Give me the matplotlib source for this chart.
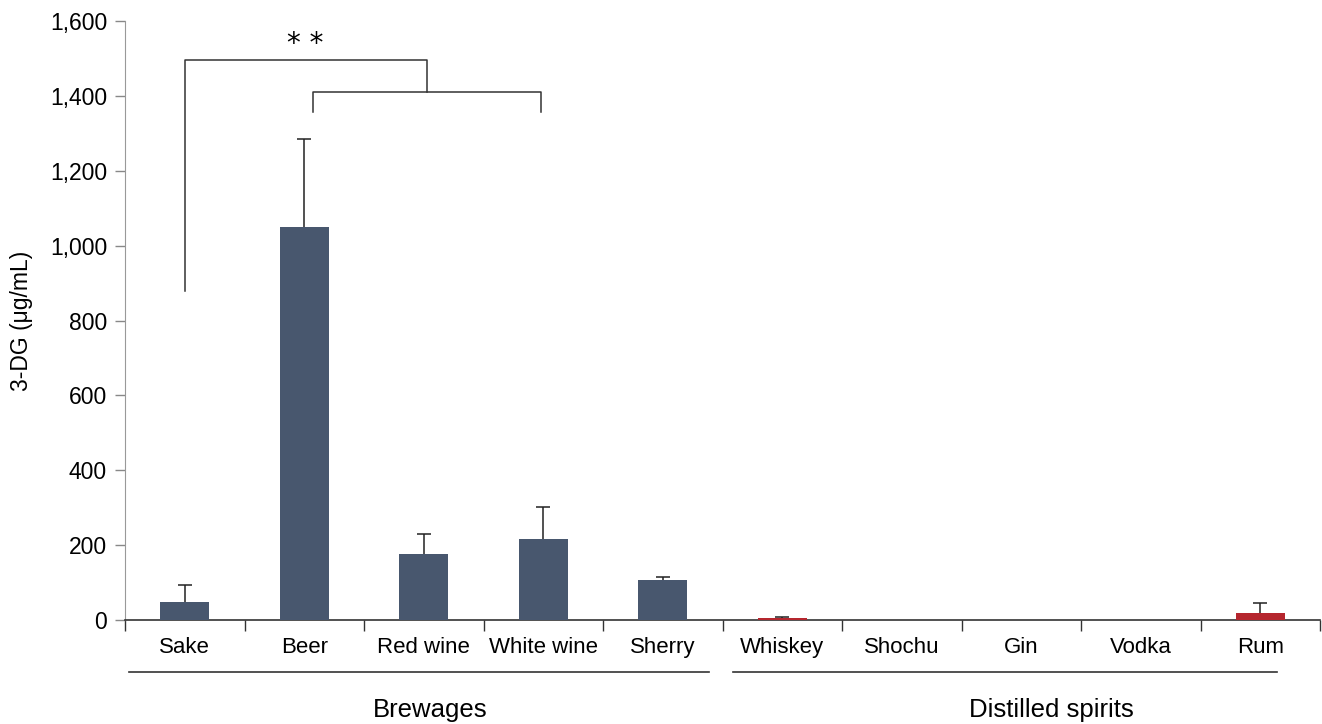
import matplotlib
matplotlib.use("Agg")
import matplotlib.pyplot as plt
import numpy as np

plt.rcParams['font.family'] = ['Liberation Sans', 'DejaVu Sans']

categories = ["Sake", "Beer", "Red wine", "White wine", "Sherry",
              "Whiskey", "Shochu", "Gin", "Vodka", "Rum"]
means = [49, 1050, 176, 216, 107, 5, 0, 0, 0, 18]
sds = [45, 235, 54, 86, 9, 3, 0, 0, 0, 27]
groups = ["Brewages"] * 5 + ["Distilled spirits"] * 5
group_names = ["Brewages", "Distilled spirits"]
colors = {"Brewages": "#48576e", "Distilled spirits": "#b5262e"}
yticks = [0, 200, 400, 600, 800, 1000, 1200, 1400, 1600]

fig = plt.figure(figsize=(13.22, 7.24), dpi=100)
ax = fig.add_axes([0.0946, 0.1436, 0.9039, 0.8273])

x = np.arange(len(categories))
bar_colors = [colors[g] for g in groups]
ax.bar(x, means, width=0.41, color=bar_colors, zorder=3)
for xi, m, s in zip(x, means, sds):
    if s > 0:
        eb = ax.errorbar(xi, m, yerr=[[0], [s]], fmt='none', ecolor='#222222',
                         elinewidth=1.1, capsize=5, capthick=1.1, zorder=4)
        # keep only the upper cap
        eb[1][0].set_visible(False)

ax.set_xlim(-0.5, len(categories) - 0.5)
ax.set_ylim(0, 1600)
ax.set_yticks(yticks)
ax.set_yticklabels([f"{v:,}" for v in yticks], fontsize=16.5)
ax.set_ylabel("3-DG (μg/mL)", fontsize=16.5, labelpad=12)

# category labels between boundary ticks
ax.set_xticks(np.arange(-0.5, len(categories), 1.0))
ax.set_xticklabels([])
ax.set_xticks(x, minor=True)
ax.set_xticklabels(categories, minor=True, fontsize=16)
ax.tick_params(axis='x', which='major', length=8, width=1, color='#333333', direction='out')
ax.tick_params(axis='x', which='minor', length=0, pad=12)
ax.tick_params(axis='y', length=7, width=1, color='#888888', pad=6)

for side in ['top', 'right']:
    ax.spines[side].set_visible(False)
ax.spines['left'].set_color('#999999')
ax.spines['bottom'].set_color('#333333')
ax.spines['bottom'].set_linewidth(1.2)

# group underlines and labels
trans = ax.get_xaxis_transform()
group_spans = [(-0.47, 4.39), (4.59, 9.14)]
for (x0, x1), name in zip(group_spans, group_names):
    ax.plot([x0, x1], [-0.087, -0.087], transform=trans, color='#333333',
            lw=1.2, clip_on=False)
label_pos = [2.05, 7.25]
for xp, name in zip(label_pos, group_names):
    ax.text(xp, -0.15, name, transform=trans, ha='center', va='center',
            fontsize=18.5)

# significance brackets
lc = '#333333'
inner_l, inner_r = 1.07, 2.98
mid = (inner_l + inner_r) / 2
ax.plot([inner_l, inner_l, inner_r, inner_r], [1357, 1410, 1410, 1357],
        color=lc, lw=1.1, clip_on=False)
ax.plot([0, 0, mid, mid], [880, 1495, 1495, 1410], color=lc, lw=1.1,
        clip_on=False)
ax.text(1.01, 1540, "* *", ha='center', va='center', fontsize=20,
        family=['DejaVu Sans'])

fig.savefig("out.png", dpi=100)
